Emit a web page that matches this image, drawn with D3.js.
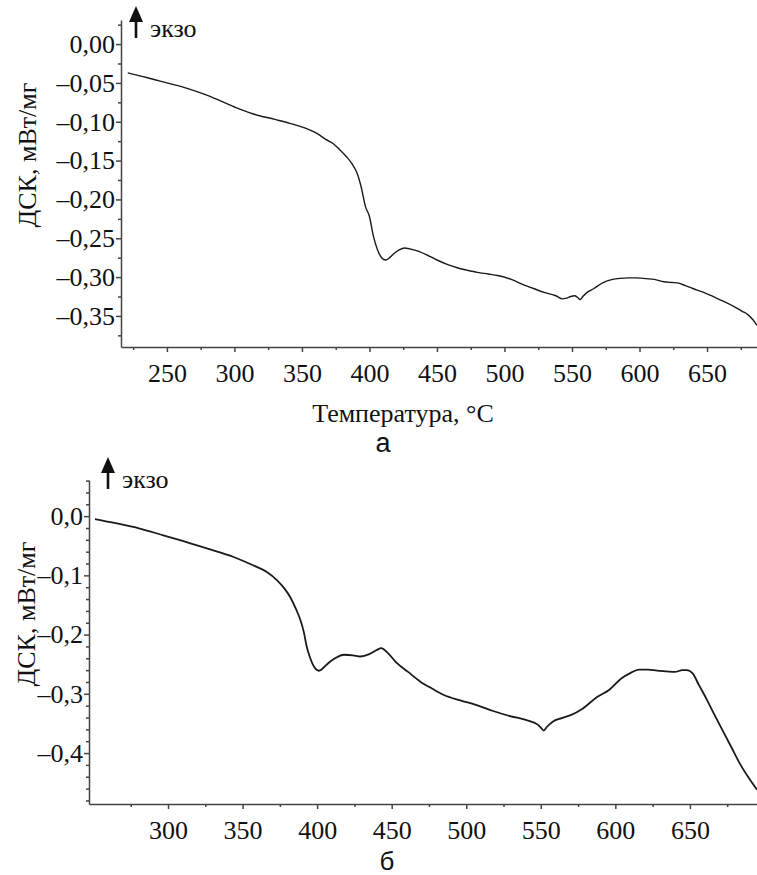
<!DOCTYPE html>
<html><head><meta charset="utf-8">
<script src="https://cdn.jsdelivr.net/npm/d3@7"></script>
<style>
body{margin:0;background:#fff;}
svg{display:block;}
</style></head>
<body>
<script>
// ---- data: panel а ----
const topTemp = [221,235,250,265,280,300,314,330,341,352,361,368,373,378,383,387,391,394,397,400,403,406,409,412,415,418,422,426,433,442,450,458,465,472,480,488,495,505,513,522,530,538,543,546,549,552,554,556,558,561,566,573,580,586,592,598,605,611,618,624,628,634,640,648,655,662,670,676,680,684,687];
const topDSC  = [-0.037,-0.043,-0.050,-0.057,-0.066,-0.081,-0.090,-0.097,-0.102,-0.108,-0.115,-0.123,-0.128,-0.136,-0.145,-0.154,-0.167,-0.185,-0.209,-0.222,-0.248,-0.265,-0.275,-0.278,-0.275,-0.270,-0.265,-0.2625,-0.265,-0.271,-0.278,-0.284,-0.288,-0.291,-0.294,-0.296,-0.298,-0.303,-0.309,-0.315,-0.320,-0.324,-0.328,-0.327,-0.325,-0.324,-0.326,-0.329,-0.325,-0.320,-0.315,-0.307,-0.303,-0.3016,-0.301,-0.301,-0.302,-0.303,-0.306,-0.307,-0.3075,-0.311,-0.315,-0.320,-0.3255,-0.331,-0.338,-0.344,-0.348,-0.355,-0.362];
const topXTicks = [250,300,350,400,450,500,550,600,650];
const topYTicks = [0,-0.05,-0.10,-0.15,-0.20,-0.25,-0.30,-0.35];

// ---- data: panel б ----
const botTemp = [251,265,281,295,308,326,344,357,366,373,378,382,386,389,391,393,395,397,399,401,403,405,408,412,418,424,429,435,440,443,447,453,461,469,477,485,496,507,518,530,540,548,550,552,554,558,564,570,578,588,596,604,610,616,622,628,634,640,645,648,652,656,661,666,672,678,684,690,695];
const botDSC  = [-0.005,-0.012,-0.021,-0.031,-0.0405,-0.0545,-0.069,-0.083,-0.094,-0.108,-0.122,-0.137,-0.158,-0.177,-0.195,-0.220,-0.237,-0.250,-0.258,-0.261,-0.259,-0.254,-0.247,-0.240,-0.234,-0.235,-0.237,-0.233,-0.226,-0.223,-0.230,-0.247,-0.263,-0.279,-0.291,-0.302,-0.311,-0.319,-0.329,-0.338,-0.344,-0.352,-0.357,-0.362,-0.356,-0.347,-0.341,-0.336,-0.325,-0.305,-0.293,-0.274,-0.265,-0.259,-0.259,-0.261,-0.262,-0.263,-0.260,-0.260,-0.266,-0.285,-0.308,-0.333,-0.362,-0.391,-0.420,-0.444,-0.462];
const botXTicks = [300,350,400,450,500,550,600,650];
const botYTicks = [0,-0.1,-0.2,-0.3,-0.4];

const yTitle = "ДСК, мВт/мг";
const xTitle = "Температура, °C";
const exoLabel = "экзо";

const SERIF = "Liberation Serif, Times New Roman, serif";
const SANS = "Liberation Sans, Arial, sans-serif";
const W = 757, H = 875;
const svg = d3.select("body").append("svg").attr("width", W).attr("height", H);

function fmt(d, p){
  return d3.format("." + p + "f")(Math.abs(d) < 1e-9 ? 0 : d)
    .replace("\u2212", "\u2013").replace("-", "\u2013").replace(".", ",");
}

function styleAxis(sel){
  sel.attr("font-family", SERIF).attr("font-size", 26);
  sel.selectAll("text").attr("font-family", SERIF).attr("font-size", 26).attr("fill", "#111");
  sel.selectAll("path,line").attr("stroke", "#444").attr("stroke-width", 1.5);
}

function panel(cfg){
  const x = d3.scaleLinear().domain(cfg.xDom).range(cfg.xRange);
  const y = d3.scaleLinear().domain(cfg.yDom).range(cfg.yRange);
  const g = svg.append("g");
  const x0 = cfg.xRange[0], yb = cfg.yRange[1];

  // minor ticks
  const mx = g.append("g").attr("transform",`translate(0,${yb})`)
    .call(d3.axisBottom(x).tickValues(cfg.xMinor).tickSize(3).tickSizeOuter(0).tickFormat(""));
  mx.select(".domain").remove(); styleAxis(mx);
  const my = g.append("g").attr("transform",`translate(${x0},0)`)
    .call(d3.axisLeft(y).tickValues(cfg.yMinor).tickSize(3).tickSizeOuter(0).tickFormat(""));
  my.select(".domain").remove(); styleAxis(my);

  // major
  const ax1 = g.append("g").attr("transform",`translate(0,${yb})`)
    .call(d3.axisBottom(x).tickValues(cfg.xTicks).tickSize(5).tickSizeOuter(0).tickPadding(12).tickFormat(d3.format("d")));
  styleAxis(ax1);
  const ay1 = g.append("g").attr("transform",`translate(${x0},0)`)
    .call(d3.axisLeft(y).tickValues(cfg.yTicks).tickSize(5).tickSizeOuter(0).tickPadding(1).tickFormat(d => fmt(d, cfg.prec)));
  styleAxis(ay1);

  // curve
  const line = d3.line().x((d,i)=>x(cfg.T[i])).y((d,i)=>y(cfg.V[i])).curve(d3.curveMonotoneX);
  g.append("path").datum(cfg.V).attr("d", line).attr("fill","none")
    .attr("stroke","#1a1a1a").attr("stroke-width",cfg.lw).attr("stroke-linejoin","round");

  // y title
  g.append("text").attr("transform",`translate(${cfg.yTitleX},${cfg.yTitleY}) rotate(-90)`)
    .attr("text-anchor","middle")
    .attr("font-family", SERIF).attr("font-size", 26).attr("fill","#111")
    .text(yTitle);

  // exo arrow
  const ax = cfg.arrow[0], ay = cfg.arrow[1];
  g.append("line").attr("x1",ax).attr("x2",ax).attr("y1",ay+14).attr("y2",ay+32)
    .attr("stroke","#111").attr("stroke-width",2.6);
  g.append("path").attr("d",`M${ax-7},${ay+16} L${ax},${ay} L${ax+7},${ay+16} Z`).attr("fill","#111");
  g.append("text").attr("x",ax+14).attr("y",ay+31)
    .attr("font-family", SERIF).attr("font-size", 26).attr("fill","#111")
    .text(exoLabel);
  return {x,y};
}

panel({
  xDom:[216,687], xRange:[121,757], yDom:[0.031,-0.39], yRange:[20,347],
  xTicks: topXTicks, xMinor: d3.range(225, 687, 50),
  yTicks: topYTicks, yMinor: [0.025,-0.025,-0.075,-0.125,-0.175,-0.225,-0.275,-0.325,-0.375],
  prec:2, T: topTemp, V: topDSC, lw:1.4,
  yTitleX:36, yTitleY:155, arrow:[136,6]
});
panel({
  xDom:[247,695], xRange:[89,757], yDom:[0.061,-0.486], yRange:[480,804],
  xTicks: botXTicks, xMinor: d3.range(275, 695, 50),
  yTicks: botYTicks, yMinor: d3.range(0.06, -0.49, -0.02).map(v=>+v.toFixed(2)).filter(v => Math.abs(v*10 - Math.round(v*10)) > 1e-6),
  prec:1, T: botTemp, V: botDSC, lw:1.8,
  yTitleX:35, yTitleY:614, arrow:[108,457]
});

// x title and panel letters
svg.append("text").attr("x",403).attr("y",422).attr("text-anchor","middle")
  .attr("font-family", SERIF).attr("font-size", 26).attr("fill","#111")
  .text(xTitle);
svg.append("text").attr("x",383).attr("y",452).attr("text-anchor","middle")
  .attr("font-family", SANS).attr("font-size", 27).attr("fill","#111")
  .text("а");
svg.append("text").attr("x",387).attr("y",870).attr("text-anchor","middle")
  .attr("font-family", SANS).attr("font-size", 26).attr("fill","#111")
  .text("б");
</script>
</body></html>
